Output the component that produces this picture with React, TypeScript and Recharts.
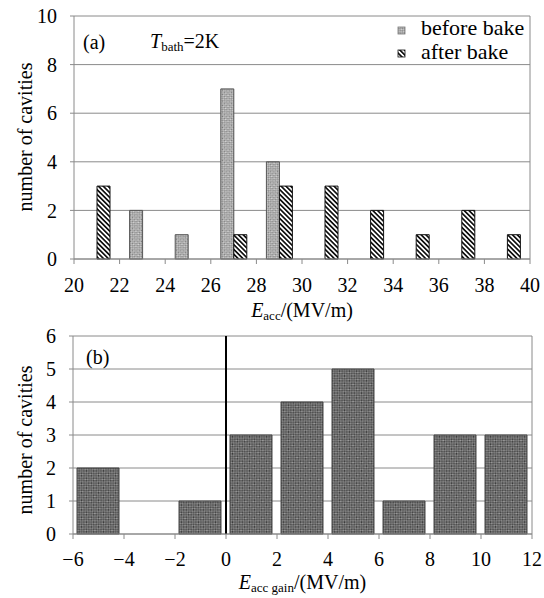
import React from "react";
import { Bar, BarChart, CartesianGrid, ReferenceLine, XAxis, YAxis } from "recharts";

// (a) histogram of Eacc, bins centred on odd values
const binsA = [21, 23, 25, 27, 29, 31, 33, 35, 37, 39];
const beforeBake = [0, 2, 1, 7, 4, 0, 0, 0, 0, 0];
const afterBake = [3, 0, 0, 1, 3, 3, 2, 1, 2, 1];
const ticksA = [20, 22, 24, 26, 28, 30, 32, 34, 36, 38, 40];
const yTicksA = [0, 2, 4, 6, 8, 10];

// (b) histogram of Eacc gain
const binsB = [-5, -3, -1, 1, 3, 5, 7, 9, 11];
const gainCount = [2, 0, 1, 3, 4, 5, 1, 3, 3];
const ticksB = [-6, -4, -2, 0, 2, 4, 6, 8, 10, 12];
const yTicksB = [0, 1, 2, 3, 4, 5, 6];

const dataA = binsA.map((x, i) => ({ x, before: beforeBake[i], after: afterBake[i] }));
const dataB = binsB.map((x, i) => ({ x, n: gainCount[i] }));

const FONT = "Liberation Serif, serif";
const GRID = "#8a8a8a";
const tick = { fontSize: 20, fill: "#000", fontFamily: FONT, style: { fontFamily: FONT } };
const txt = { fontSize: 20, fill: "#000", fontFamily: FONT, style: { fontFamily: FONT } };

const minus = (v: number) => (v < 0 ? `\u2212${-v}` : `${v}`);

function Patterns() {
	return (
		<svg width={0} height={0} style={{ position: "absolute" }}>
			<defs>
				<pattern id="pBefore" width={2.6} height={2.6} patternUnits="userSpaceOnUse" patternTransform="rotate(45)">
					<rect width={2.6} height={2.6} fill="#d4d4d4" />
					<rect width={1.3} height={1.3} fill="#777" />
					<rect x={1.3} y={1.3} width={1.3} height={1.3} fill="#8c8c8c" />
				</pattern>
				<pattern id="pAfter" width={3.4} height={3.4} patternUnits="userSpaceOnUse" patternTransform="rotate(45)">
					<rect width={3.4} height={3.4} fill="#fff" />
					<rect width={3.4} height={1.7} fill="#111" />
				</pattern>
				<pattern id="pGain" width={2.4} height={2.4} patternUnits="userSpaceOnUse" patternTransform="rotate(45)">
					<rect width={2.4} height={2.4} fill="#9c9c9c" />
					<rect width={1.2} height={1.2} fill="#3a3a3a" />
					<rect x={1.2} y={1.2} width={1.2} height={1.2} fill="#3a3a3a" />
				</pattern>
			</defs>
		</svg>
	);
}

const yLabel = (cy: number) => () => (
	<text x={25} y={cy} transform={`rotate(-90, 25, ${cy})`} textAnchor="middle" dominantBaseline="central" {...txt}>
		number of cavities
	</text>
);

const xLabel = (sub: string, dy: number) => (props: any) => {
	const vb = props.viewBox || {};
	return (
		<text x={vb.x + vb.width / 2} y={vb.y + dy} textAnchor="middle" {...txt}>
			<tspan fontStyle="italic">E</tspan>
			<tspan fontSize={13} dy={3}>{sub}</tspan>
			<tspan dy={-3}>/(MV/m)</tspan>
		</text>
	);
};

export default function App() {
	return (
		<div style={{ position: "absolute", left: 0, top: 0, width: 544, height: 598, background: "#fff", fontFamily: FONT }}>
			<Patterns />
			<div style={{ position: "absolute", left: 0, top: 0 }}>
				<BarChart width={544} height={325} data={dataA} margin={{ top: 16, right: 14, left: 0, bottom: 0 }} barGap={0}>
					<CartesianGrid vertical={false} stroke={GRID} />
					<XAxis
						type="number"
						dataKey="x"
						domain={[20, 40]}
						ticks={ticksA}
						interval={0}
						height={66}
						tickSize={5}
						tickMargin={14}
						stroke={GRID}
						tick={tick}
						label={{ content: xLabel("acc", 58) }}
					/>
					<YAxis
						domain={[0, 10]}
						ticks={yTicksA}
						width={74}
						tickSize={4}
						tickMargin={13}
						stroke={GRID}
						tick={tick}
						label={{ content: yLabel(137) }}
					/>
					<ReferenceLine x={40} stroke={GRID} />
					<Bar dataKey="before" barSize={13} fill="url(#pBefore)" stroke="#555" strokeWidth={1} isAnimationActive={false} />
					<Bar dataKey="after" barSize={13} fill="url(#pAfter)" stroke="#111" strokeWidth={1} isAnimationActive={false} />
					<text x={83} y={49} {...txt}>(a)</text>
					<text x={150} y={48} {...txt}>
						<tspan fontStyle="italic">T</tspan>
						<tspan fontSize={13} dy={3}>bath</tspan>
						<tspan dy={-3}>=2K</tspan>
					</text>
					<rect x={398} y={27} width={7} height={7} fill="url(#pBefore)" stroke="#777" strokeWidth={0.8} />
					<text x={421} y={35} {...txt} fontSize={22}>before bake</text>
					<rect x={398} y={50} width={7} height={7} fill="url(#pAfter)" stroke="#111" strokeWidth={0.8} />
					<text x={421} y={59} {...txt} fontSize={22}>after bake</text>
				</BarChart>
			</div>
			<div style={{ position: "absolute", left: 0, top: 320 }}>
				<BarChart width={544} height={278} data={dataB} margin={{ top: 16, right: 12, left: 0, bottom: 0 }}>
					<CartesianGrid vertical={false} stroke={GRID} />
					<XAxis
						type="number"
						dataKey="x"
						domain={[-6, 12]}
						ticks={ticksB}
						interval={0}
						height={64}
						tickSize={5}
						tickMargin={13}
						stroke={GRID}
						tick={tick}
						tickFormatter={minus}
						label={{ content: xLabel("acc gain", 55) }}
					/>
					<YAxis
						domain={[0, 6]}
						ticks={yTicksB}
						width={73}
						tickSize={4}
						tickMargin={13}
						stroke={GRID}
						tick={tick}
						label={{ content: yLabel(120) }}
					/>
					<ReferenceLine x={12} stroke={GRID} />
					<Bar dataKey="n" barSize={42} fill="url(#pGain)" stroke="#444" strokeWidth={1} isAnimationActive={false} />
					<ReferenceLine x={0} stroke="#000" strokeWidth={2} />
					<text x={86} y={44} {...txt}>(b)</text>
				</BarChart>
			</div>
		</div>
	);
}
